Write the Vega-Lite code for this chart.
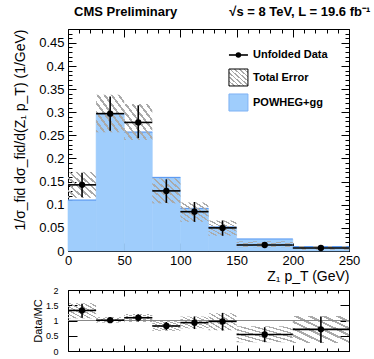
{
  "$schema": "https://vega.github.io/schema/vega-lite/v6.json",
  "padding": {"left": 12, "top": 5, "right": 0, "bottom": 0},
  "bounds": "flush",
  "spacing": 39,
  "config": {
    "font": "Liberation Sans",
    "view": {"stroke": "black", "strokeWidth": 1},
    "axis": {"domain": false, "grid": false, "labelFont": "Liberation Sans", "titleFont": "Liberation Sans", "labelColor": "black", "titleColor": "black", "tickColor": "black", "titleFontWeight": "normal", "labelFlush": false, "labelOverlap": false}
  },
  "datasets": {
    "main": [
      {"lo": 0, "hi": 25, "mid": 12.5, "mc": 0.110, "data": 0.143, "dlo": 0.116, "dhi": 0.169, "elo": 0.115, "ehi": 0.171},
      {"lo": 25, "hi": 50, "mid": 37.5, "mc": 0.297, "data": 0.297, "dlo": 0.260, "dhi": 0.334, "elo": 0.257, "ehi": 0.338},
      {"lo": 50, "hi": 75, "mid": 62.5, "mc": 0.257, "data": 0.278, "dlo": 0.244, "dhi": 0.315, "elo": 0.240, "ehi": 0.318},
      {"lo": 75, "hi": 100, "mid": 87.5, "mc": 0.159, "data": 0.130, "dlo": 0.104, "dhi": 0.155, "elo": 0.103, "ehi": 0.157},
      {"lo": 100, "hi": 125, "mid": 112.5, "mc": 0.092, "data": 0.085, "dlo": 0.063, "dhi": 0.106, "elo": 0.063, "ehi": 0.105},
      {"lo": 125, "hi": 150, "mid": 137.5, "mc": 0.052, "data": 0.050, "dlo": 0.033, "dhi": 0.066, "elo": 0.033, "ehi": 0.066},
      {"lo": 150, "hi": 200, "mid": 175, "mc": 0.026, "data": 0.013, "dlo": 0.010, "dhi": 0.016, "elo": 0.008, "ehi": 0.021},
      {"lo": 200, "hi": 250, "mid": 225, "mc": 0.0093, "data": 0.0065, "dlo": 0.004, "dhi": 0.009, "elo": 0.0025, "ehi": 0.0107}
    ],
    "ratio": [
      {"lo": 0, "hi": 25, "mid": 12.5, "r": 1.33, "rlo": 1.09, "rhi": 1.55, "blo": 1.07, "bhi": 1.57},
      {"lo": 25, "hi": 50, "mid": 37.5, "r": 1.01, "rlo": 0.93, "rhi": 1.10, "blo": 0.93, "bhi": 1.11},
      {"lo": 50, "hi": 75, "mid": 62.5, "r": 1.09, "rlo": 0.97, "rhi": 1.20, "blo": 0.95, "bhi": 1.21},
      {"lo": 75, "hi": 100, "mid": 87.5, "r": 0.82, "rlo": 0.69, "rhi": 0.95, "blo": 0.66, "bhi": 0.98},
      {"lo": 100, "hi": 125, "mid": 112.5, "r": 0.93, "rlo": 0.72, "rhi": 1.13, "blo": 0.74, "bhi": 1.13},
      {"lo": 125, "hi": 150, "mid": 137.5, "r": 0.97, "rlo": 0.67, "rhi": 1.25, "blo": 0.68, "bhi": 1.24},
      {"lo": 150, "hi": 200, "mid": 175, "r": 0.54, "rlo": 0.29, "rhi": 0.78, "blo": 0.29, "bhi": 0.81},
      {"lo": 200, "hi": 250, "mid": 225, "r": 0.71, "rlo": 0.27, "rhi": 1.13, "blo": 0.26, "bhi": 1.15}
    ]
  },
  "vconcat": [
    {
      "width": 281,
      "height": 222,
      "data": {"name": "main"},
      "title": {"text": "CMS Preliminary\u2003\u2003\u2003\u2003√s = 8 TeV, L = 19.6 fb⁻¹", "anchor": "start", "frame": "group", "dx": 6, "fontSize": 13, "fontWeight": "bold", "font": "Liberation Sans", "offset": -6, "baseline": "alphabetic", "color": "black"},
      "resolve": {"axis": {"x": "independent", "y": "independent"}},
      "layer": [
        {
          "mark": {"type": "rect", "fill": "#9fcdfc", "stroke": "#9fcdfc", "strokeWidth": 0.6},
          "encoding": {
            "x": {"field": "lo", "type": "quantitative", "scale": {"domain": [0, 250], "nice": false, "zero": false},
              "axis": {"orient": "bottom", "values": [0,10,20,30,40,50,60,70,80,90,100,110,120,130,140,150,160,170,180,190,200,210,220,230,240,250],
                "labelExpr": "datum.value % 50 === 0 ? datum.label : ''", "format": "d", "labelFontSize": 13, "labelPadding": 11,
                "tickSize": {"condition": {"test": "datum.value % 50 === 0", "value": -8}, "value": -4},
                "title": "Z₁ p_T (GeV)", "titleFontSize": 14, "titleAnchor": "end", "titleBaseline": "alphabetic", "titleY": 29}},
            "x2": {"field": "hi"},
            "y": {"field": "mc", "type": "quantitative", "scale": {"domain": [0, 0.48], "nice": false, "zero": false},
              "axis": {"orient": "left", "values": [0,0.01,0.02,0.03,0.04,0.05,0.06,0.07,0.08,0.09,0.1,0.11,0.12,0.13,0.14,0.15,0.16,0.17,0.18,0.19,0.2,0.21,0.22,0.23,0.24,0.25,0.26,0.27,0.28,0.29,0.3,0.31,0.32,0.33,0.34,0.35,0.36,0.37,0.38,0.39,0.4,0.41,0.42,0.43,0.44,0.45,0.46,0.47,0.48],
                "labelExpr": "round(datum.value * 100) % 5 === 0 ? datum.label : ''", "format": "~g", "labelFontSize": 13, "labelPadding": 12,
                "tickSize": {"condition": {"test": "round(datum.value * 100) % 5 === 0", "value": -8}, "value": -4},
                "title": "1/σ_fid dσ_fid/d(Z₁ p_T) (1/GeV)", "titleFontSize": 14, "titleAnchor": "end", "titleX": -41}},
            "y2": {"datum": 0}
          }
        },
        {
          "mark": {"type": "rule", "stroke": "#5e9cf2", "strokeWidth": 1.2},
          "encoding": {
            "x": {"field": "lo", "type": "quantitative", "axis": null},
            "x2": {"field": "hi"},
            "y": {"field": "mc", "type": "quantitative", "axis": null}
          }
        },
        {
          "mark": {"type": "rect", "fill": {"gradient": "linear", "x1": 0, "y1": 1, "x2": 1, "y2": 0, "stops": [
            {"offset": 0, "color": "#aaaaaa"}, {"offset": 0.042, "color": "#aaaaaa"}, {"offset": 0.042, "color": "rgba(255,255,255,0)"}, {"offset": 0.125, "color": "rgba(255,255,255,0)"},
            {"offset": 0.125, "color": "#aaaaaa"}, {"offset": 0.167, "color": "#aaaaaa"}, {"offset": 0.167, "color": "rgba(255,255,255,0)"}, {"offset": 0.25, "color": "rgba(255,255,255,0)"},
            {"offset": 0.25, "color": "#aaaaaa"}, {"offset": 0.292, "color": "#aaaaaa"}, {"offset": 0.292, "color": "rgba(255,255,255,0)"}, {"offset": 0.375, "color": "rgba(255,255,255,0)"},
            {"offset": 0.375, "color": "#aaaaaa"}, {"offset": 0.417, "color": "#aaaaaa"}, {"offset": 0.417, "color": "rgba(255,255,255,0)"}, {"offset": 0.5, "color": "rgba(255,255,255,0)"},
            {"offset": 0.5, "color": "#aaaaaa"}, {"offset": 0.542, "color": "#aaaaaa"}, {"offset": 0.542, "color": "rgba(255,255,255,0)"}, {"offset": 0.625, "color": "rgba(255,255,255,0)"},
            {"offset": 0.625, "color": "#aaaaaa"}, {"offset": 0.667, "color": "#aaaaaa"}, {"offset": 0.667, "color": "rgba(255,255,255,0)"}, {"offset": 0.75, "color": "rgba(255,255,255,0)"},
            {"offset": 0.75, "color": "#aaaaaa"}, {"offset": 0.792, "color": "#aaaaaa"}, {"offset": 0.792, "color": "rgba(255,255,255,0)"}, {"offset": 0.875, "color": "rgba(255,255,255,0)"},
            {"offset": 0.875, "color": "#aaaaaa"}, {"offset": 0.917, "color": "#aaaaaa"}, {"offset": 0.917, "color": "rgba(255,255,255,0)"}, {"offset": 1, "color": "rgba(255,255,255,0)"}
          ]}},
          "encoding": {
            "x": {"field": "lo", "type": "quantitative", "axis": null},
            "x2": {"field": "hi"},
            "y": {"field": "elo", "type": "quantitative", "axis": null},
            "y2": {"field": "ehi"}
          }
        },
        {
          "mark": {"type": "rule", "stroke": "black", "strokeWidth": 1.6},
          "encoding": {
            "x": {"field": "lo", "type": "quantitative",
              "axis": {"orient": "top", "values": [0,10,20,30,40,50,60,70,80,90,100,110,120,130,140,150,160,170,180,190,200,210,220,230,240,250], "labels": false, "title": null,
                "tickSize": {"condition": {"test": "datum.value % 50 === 0", "value": -8}, "value": -4}}},
            "x2": {"field": "hi"},
            "y": {"field": "data", "type": "quantitative",
              "axis": {"orient": "right", "values": [0,0.01,0.02,0.03,0.04,0.05,0.06,0.07,0.08,0.09,0.1,0.11,0.12,0.13,0.14,0.15,0.16,0.17,0.18,0.19,0.2,0.21,0.22,0.23,0.24,0.25,0.26,0.27,0.28,0.29,0.3,0.31,0.32,0.33,0.34,0.35,0.36,0.37,0.38,0.39,0.4,0.41,0.42,0.43,0.44,0.45,0.46,0.47,0.48], "labels": false, "title": null,
                "tickSize": {"condition": {"test": "round(datum.value * 100) % 5 === 0", "value": -8}, "value": -4}}}
          }
        },
        {
          "mark": {"type": "rule", "stroke": "black", "strokeWidth": 1.6},
          "encoding": {
            "x": {"field": "mid", "type": "quantitative", "axis": null},
            "y": {"field": "dlo", "type": "quantitative", "axis": null},
            "y2": {"field": "dhi"}
          }
        },
        {
          "mark": {"type": "point", "filled": true, "fill": "black", "opacity": 1, "size": 40, "shape": "circle"},
          "encoding": {
            "x": {"field": "mid", "type": "quantitative", "axis": null},
            "y": {"field": "data", "type": "quantitative", "axis": null}
          }
        },
        {
          "data": {"values": [{}]},
          "mark": {"type": "rule", "stroke": "black", "strokeWidth": 1.6},
          "encoding": {
            "x": {"datum": 143.2, "type": "quantitative", "axis": null},
            "x2": {"datum": 160.1},
            "y": {"datum": 0.4238, "type": "quantitative", "axis": null}
          }
        },
        {
          "data": {"values": [{}]},
          "mark": {"type": "point", "filled": true, "fill": "black", "opacity": 1, "size": 30, "shape": "circle"},
          "encoding": {
            "x": {"datum": 151.6, "type": "quantitative", "axis": null},
            "y": {"datum": 0.4238, "type": "quantitative", "axis": null}
          }
        },
        {
          "data": {"values": [{}]},
          "mark": {"type": "rect", "stroke": "black", "strokeWidth": 1, "fill": {"gradient": "linear", "x1": 0, "y1": 1, "x2": 1, "y2": 0, "stops": [
            {"offset": 0, "color": "#aaaaaa"}, {"offset": 0.042, "color": "#aaaaaa"}, {"offset": 0.042, "color": "rgba(255,255,255,0)"}, {"offset": 0.125, "color": "rgba(255,255,255,0)"},
            {"offset": 0.125, "color": "#aaaaaa"}, {"offset": 0.167, "color": "#aaaaaa"}, {"offset": 0.167, "color": "rgba(255,255,255,0)"}, {"offset": 0.25, "color": "rgba(255,255,255,0)"},
            {"offset": 0.25, "color": "#aaaaaa"}, {"offset": 0.292, "color": "#aaaaaa"}, {"offset": 0.292, "color": "rgba(255,255,255,0)"}, {"offset": 0.375, "color": "rgba(255,255,255,0)"},
            {"offset": 0.375, "color": "#aaaaaa"}, {"offset": 0.417, "color": "#aaaaaa"}, {"offset": 0.417, "color": "rgba(255,255,255,0)"}, {"offset": 0.5, "color": "rgba(255,255,255,0)"},
            {"offset": 0.5, "color": "#aaaaaa"}, {"offset": 0.542, "color": "#aaaaaa"}, {"offset": 0.542, "color": "rgba(255,255,255,0)"}, {"offset": 0.625, "color": "rgba(255,255,255,0)"},
            {"offset": 0.625, "color": "#aaaaaa"}, {"offset": 0.667, "color": "#aaaaaa"}, {"offset": 0.667, "color": "rgba(255,255,255,0)"}, {"offset": 0.75, "color": "rgba(255,255,255,0)"},
            {"offset": 0.75, "color": "#aaaaaa"}, {"offset": 0.792, "color": "#aaaaaa"}, {"offset": 0.792, "color": "rgba(255,255,255,0)"}, {"offset": 0.875, "color": "rgba(255,255,255,0)"},
            {"offset": 0.875, "color": "#aaaaaa"}, {"offset": 0.917, "color": "#aaaaaa"}, {"offset": 0.917, "color": "rgba(255,255,255,0)"}, {"offset": 1, "color": "rgba(255,255,255,0)"}
          ]}},
          "encoding": {
            "x": {"datum": 143.2, "type": "quantitative", "axis": null},
            "x2": {"datum": 160.1},
            "y": {"datum": 0.3935, "type": "quantitative", "axis": null},
            "y2": {"datum": 0.3568}
          }
        },
        {
          "data": {"values": [{}]},
          "mark": {"type": "rect", "fill": "#9fcdfc", "stroke": "#7fb2f5", "strokeWidth": 1},
          "encoding": {
            "x": {"datum": 143.2, "type": "quantitative", "axis": null},
            "x2": {"datum": 160.1},
            "y": {"datum": 0.3395, "type": "quantitative", "axis": null},
            "y2": {"datum": 0.3027}
          }
        },
        {
          "data": {"values": [{}]},
          "mark": {"type": "text", "text": "Unfolded Data", "align": "left", "baseline": "middle", "fontSize": 11, "fontWeight": "bold", "font": "Liberation Sans", "color": "black"},
          "encoding": {
            "x": {"datum": 164.6, "type": "quantitative", "axis": null},
            "y": {"datum": 0.4238, "type": "quantitative", "axis": null}
          }
        },
        {
          "data": {"values": [{}]},
          "mark": {"type": "text", "text": "Total Error", "align": "left", "baseline": "middle", "fontSize": 11, "fontWeight": "bold", "font": "Liberation Sans", "color": "black"},
          "encoding": {
            "x": {"datum": 164.6, "type": "quantitative", "axis": null},
            "y": {"datum": 0.375, "type": "quantitative", "axis": null}
          }
        },
        {
          "data": {"values": [{}]},
          "mark": {"type": "text", "text": "POWHEG+gg", "align": "left", "baseline": "middle", "fontSize": 11, "fontWeight": "bold", "font": "Liberation Sans", "color": "black"},
          "encoding": {
            "x": {"datum": 164.6, "type": "quantitative", "axis": null},
            "y": {"datum": 0.321, "type": "quantitative", "axis": null}
          }
        }
      ]
    },
    {
      "width": 281,
      "height": 61,
      "data": {"name": "ratio"},
      "resolve": {"axis": {"x": "independent", "y": "independent"}},
      "layer": [
        {
          "mark": {"type": "rect", "fill": {"gradient": "linear", "x1": 0, "y1": 1, "x2": 1, "y2": 0, "stops": [
            {"offset": 0, "color": "#aaaaaa"}, {"offset": 0.042, "color": "#aaaaaa"}, {"offset": 0.042, "color": "rgba(255,255,255,0)"}, {"offset": 0.125, "color": "rgba(255,255,255,0)"},
            {"offset": 0.125, "color": "#aaaaaa"}, {"offset": 0.167, "color": "#aaaaaa"}, {"offset": 0.167, "color": "rgba(255,255,255,0)"}, {"offset": 0.25, "color": "rgba(255,255,255,0)"},
            {"offset": 0.25, "color": "#aaaaaa"}, {"offset": 0.292, "color": "#aaaaaa"}, {"offset": 0.292, "color": "rgba(255,255,255,0)"}, {"offset": 0.375, "color": "rgba(255,255,255,0)"},
            {"offset": 0.375, "color": "#aaaaaa"}, {"offset": 0.417, "color": "#aaaaaa"}, {"offset": 0.417, "color": "rgba(255,255,255,0)"}, {"offset": 0.5, "color": "rgba(255,255,255,0)"},
            {"offset": 0.5, "color": "#aaaaaa"}, {"offset": 0.542, "color": "#aaaaaa"}, {"offset": 0.542, "color": "rgba(255,255,255,0)"}, {"offset": 0.625, "color": "rgba(255,255,255,0)"},
            {"offset": 0.625, "color": "#aaaaaa"}, {"offset": 0.667, "color": "#aaaaaa"}, {"offset": 0.667, "color": "rgba(255,255,255,0)"}, {"offset": 0.75, "color": "rgba(255,255,255,0)"},
            {"offset": 0.75, "color": "#aaaaaa"}, {"offset": 0.792, "color": "#aaaaaa"}, {"offset": 0.792, "color": "rgba(255,255,255,0)"}, {"offset": 0.875, "color": "rgba(255,255,255,0)"},
            {"offset": 0.875, "color": "#aaaaaa"}, {"offset": 0.917, "color": "#aaaaaa"}, {"offset": 0.917, "color": "rgba(255,255,255,0)"}, {"offset": 1, "color": "rgba(255,255,255,0)"}
          ]}},
          "encoding": {
            "x": {"field": "lo", "type": "quantitative", "scale": {"domain": [0, 250], "nice": false, "zero": false},
              "axis": {"orient": "bottom", "values": [0,10,20,30,40,50,60,70,80,90,100,110,120,130,140,150,160,170,180,190,200,210,220,230,240,250], "labels": false, "title": null,
                "tickSize": {"condition": {"test": "datum.value % 50 === 0", "value": -6}, "value": -3}}},
            "x2": {"field": "hi"},
            "y": {"field": "blo", "type": "quantitative", "scale": {"domain": [0, 2], "nice": false, "zero": false},
              "axis": {"orient": "left", "values": [0, 0.5, 1, 1.5, 2], "format": "~g", "labelFontSize": 9, "labelPadding": 19, "tickSize": -9,
                "title": "Data/MC", "titleFontSize": 11, "titleX": -25}},
            "y2": {"field": "bhi"}
          }
        },
        {
          "mark": {"type": "rule", "stroke": "#888888", "strokeWidth": 1},
          "encoding": {"y": {"datum": 1, "type": "quantitative", "axis": null}}
        },
        {
          "mark": {"type": "rule", "stroke": "black", "strokeWidth": 1.6},
          "encoding": {
            "x": {"field": "lo", "type": "quantitative",
              "axis": {"orient": "top", "values": [0,10,20,30,40,50,60,70,80,90,100,110,120,130,140,150,160,170,180,190,200,210,220,230,240,250], "labels": false, "title": null,
                "tickSize": {"condition": {"test": "datum.value % 50 === 0", "value": -6}, "value": -3}}},
            "x2": {"field": "hi"},
            "y": {"field": "r", "type": "quantitative",
              "axis": {"orient": "right", "values": [0, 0.5, 1, 1.5, 2], "labels": false, "title": null, "tickSize": -9}}
          }
        },
        {
          "mark": {"type": "rule", "stroke": "black", "strokeWidth": 1.6},
          "encoding": {
            "x": {"field": "mid", "type": "quantitative", "axis": null},
            "y": {"field": "rlo", "type": "quantitative", "axis": null},
            "y2": {"field": "rhi"}
          }
        },
        {
          "mark": {"type": "point", "filled": true, "fill": "black", "opacity": 1, "size": 40, "shape": "circle"},
          "encoding": {
            "x": {"field": "mid", "type": "quantitative", "axis": null},
            "y": {"field": "r", "type": "quantitative", "axis": null}
          }
        }
      ]
    }
  ]
}
